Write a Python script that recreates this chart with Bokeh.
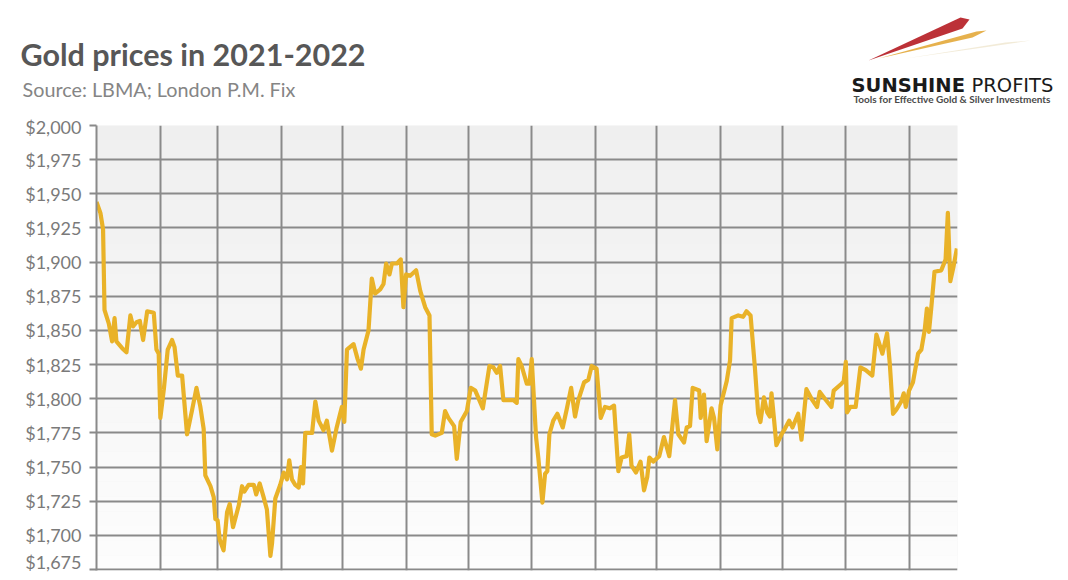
import pandas as pd
from bokeh.plotting import figure
from bokeh.models import FixedTicker, NumeralTickFormatter, Range1d, BoxAnnotation
from bokeh.core.properties import value
from bokeh.embed import file_html
from bokeh.resources import INLINE

# ---------------- data ----------------
start_date = "2021-01-01"
# days elapsed since start_date for each observation
days = [0, 1.9, 3.2, 3.9, 6, 7.6, 8.8, 9.7, 12.5, 14.6, 16.5, 17.8, 19.5, 21.1, 22.7, 24.7,
        27.9, 29.2, 30.3, 31.1, 32.8, 34.7, 36.8, 38, 39.6, 41.7, 44.1, 46.6, 48.7, 50.6, 52.2,
        53, 55.5, 57.1, 57.9, 59, 60, 61.9, 63.6, 64.9, 66.5, 69.3, 70.9, 72, 74.1, 76.6, 77.8,
        79.5, 81.4, 83, 84.7, 85.5, 87.1, 89.5, 91.2, 92.8, 93.9, 95.2, 96.8, 98.5, 99.6, 100.6,
        101.7, 105, 106.6, 108.2, 110.6, 112.2, 114.7, 117, 119.5, 120.7, 122, 125.2, 127.2,
        128.8, 130.1, 132.5, 134.1, 135.7, 138.2, 139.8, 141.1, 142.7, 143.9, 146.3, 148.2,
        149.5, 150.8, 152.8, 155.7, 157.7, 160.1, 162.2, 163.3, 165, 168.2, 169.8, 171.4,
        174.2, 175.5, 177.4, 180.4, 182.3, 184.5, 188.2, 191.4, 193.3, 195, 196.6, 198.2,
        203.1, 204.7, 205.5, 207.1, 209.6, 210.9, 212, 214.1, 215.2, 217.2, 218.5, 219.6,
        220.6, 222.5, 224.5, 227.1, 229, 231.2, 233.1, 234.7, 237.5, 239.6, 241.2, 243.6,
        245.6, 247.7, 250.1, 252.1, 254.2, 255.8, 258.2, 259.5, 260.6, 262.8, 265, 266.7,
        268.3, 269.3, 271.2, 274.1, 276.4, 279, 281.8, 283.4, 286.2, 287.5, 289.1, 290.4,
        293.6, 294.3, 295.9, 297.2, 299.6, 300.8, 302.4, 304, 307, 308.6, 309.4, 312.6, 315,
        316.6, 318.6, 320.7, 322.3, 323.4, 325.1, 326.7, 328, 328.8, 329.9, 331.2, 333.7,
        335.3, 337.4, 339, 341.8, 343.4, 345.8, 348.3, 351, 352.3, 354.8, 358, 359.1, 362.9,
        364, 365, 365.6, 367.2, 369.8, 372.1, 374.7, 377.9, 379.9, 382.8, 385.1, 386.4, 388,
        389.6, 392, 393.2, 394.2, 395.8, 397.7, 400.2, 401.8, 403.4, 404.5, 405.5, 406.6,
        408.2, 411.5, 413.6, 414.7, 415.9, 417.5, 419.1]
prices = [1944, 1936, 1924, 1865, 1855, 1842, 1859, 1842, 1837, 1834, 1861, 1853, 1856, 1857,
          1843, 1864, 1863, 1836, 1833, 1786, 1807, 1836, 1843, 1838, 1817, 1817, 1774, 1792,
          1808, 1794, 1778, 1744, 1736, 1728, 1712, 1711, 1697, 1689, 1717, 1723, 1706, 1722,
          1736, 1732, 1737, 1737, 1730, 1738, 1728, 1719, 1685, 1694, 1727, 1737, 1746, 1741,
          1755, 1741, 1737, 1735, 1750, 1738, 1775, 1775, 1798, 1784, 1777, 1784, 1762, 1779,
          1794, 1783, 1836, 1840, 1829, 1822, 1836, 1850, 1888, 1877, 1880, 1884, 1899, 1891,
          1899, 1899, 1902, 1867, 1891, 1890, 1894, 1879, 1867, 1861, 1774, 1773, 1775, 1791,
          1786, 1780, 1756, 1783, 1791, 1808, 1806, 1793, 1824, 1823, 1819, 1824, 1799, 1799,
          1797, 1829, 1824, 1811, 1811, 1829, 1772, 1757, 1724, 1745, 1747, 1774, 1784, 1789,
          1779, 1792, 1808, 1787, 1799, 1812, 1814, 1824, 1822, 1786, 1794, 1793, 1795, 1747,
          1757, 1758, 1774, 1751, 1746, 1754, 1733, 1743, 1757, 1754, 1758, 1772, 1758, 1799,
          1774, 1768, 1779, 1780, 1808, 1806, 1786, 1803, 1769, 1793, 1786, 1763, 1795, 1813,
          1828, 1859, 1861, 1860, 1864, 1861, 1823, 1789, 1783, 1801, 1790, 1787, 1804, 1787,
          1766, 1774, 1778, 1784, 1779, 1789, 1770, 1807, 1800, 1794, 1805, 1800, 1794, 1806,
          1811, 1813, 1827, 1790, 1794, 1794, 1823, 1821, 1817, 1847, 1833, 1848, 1826, 1789,
          1792, 1798, 1804, 1794, 1806, 1812, 1833, 1836, 1850, 1866, 1849, 1866, 1893, 1894,
          1902, 1936, 1886, 1897, 1910]
month_starts = ["2021-02-01", "2021-03-01", "2021-04-01", "2021-05-01", "2021-06-01",
                "2021-07-01", "2021-08-01", "2021-09-01", "2021-10-01", "2021-11-01",
                "2021-12-01", "2022-01-01", "2022-02-01"]
y_ticks = [1675, 1700, 1725, 1750, 1775, 1800, 1825, 1850, 1875, 1900, 1925, 1950, 1975, 2000]

title_text = "Gold prices in 2021-2022"
subtitle_text = "Source: LBMA; London P.M. Fix"
logo_bold = "SUNSHINE"
logo_regular = "PROFITS"
logo_tagline = "Tools for Effective Gold & Silver Investments"

W = 1060
HEAD_H = 115

# ---------------- header (title, source, logo) ----------------
h = figure(width=W, height=HEAD_H, output_backend="svg", toolbar_location=None,
           x_range=Range1d(0, W), y_range=Range1d(HEAD_H, 0),
           min_border=0, min_border_left=0, min_border_right=0,
           min_border_top=0, min_border_bottom=0)
h.axis.visible = False
h.grid.visible = False
h.outline_line_color = None
h.background_fill_color = "white"
h.border_fill_color = "white"


def htext(x, y, txt, size, color, style="normal", font="Lato"):
    h.text(x=[x], y=[y], text=[txt], text_font=value(font), text_font_size=size,
           text_color=color, text_font_style=style, text_baseline="alphabetic",
           text_align="left")


# logo stripes
h.patches(xs=[[1005, 905, 990, 1030], [976, 878, 972, 986], [960, 868, 962, 969]],
          ys=[[42, 58, 46, 40], [31, 58, 37, 30], [17, 60, 28, 19]],
          fill_color=["#ece2c8", "#e3a93a", "#b8262c"], fill_alpha=[0.7, 0.9, 0.95],
          line_color=None)

htext(20, 53, title_text, "30.5px", "#575757", "bold")
htext(22, 88, subtitle_text, "19.8px", "#858585")
htext(851, 85, logo_bold, "19.5px", "#1a1a1a", "bold", "DejaVu Sans")
htext(971, 85, logo_regular, "19.5px", "#1a1a1a", "normal", "DejaVu Sans")
htext(853, 98, logo_tagline, "10px", "#4a4a4a", "bold")

# ---------------- main chart ----------------
t0 = pd.Timestamp(start_date)
dates = [t0 + pd.Timedelta(days=d) for d in days]
x_end = t0 + pd.Timedelta(days=419.4)
Y0 = 1674.3

GOLD = "#E9B228"
GRID = "#8a8a8a"

p = figure(width=W, height=572 - HEAD_H, output_backend="svg", toolbar_location=None,
           x_axis_type="datetime",
           x_range=Range1d(t0, x_end), y_range=Range1d(Y0, 2000),
           min_border_left=96, min_border_right=W - 957, min_border_top=125 - HEAD_H,
           min_border_bottom=2)
p.outline_line_color = None
p.background_fill_color = "#f4f4f4"
p.border_fill_color = "white"

# subtle vertical gradient in plot area
nb = 30
for i in range(nb):
    lo = Y0 + (2000 - Y0) * i / nb
    hi = Y0 + (2000 - Y0) * (i + 1) / nb
    frac = (i + 0.5) / nb
    c = int(round(253 - frac * 14))
    p.add_layout(BoxAnnotation(bottom=lo, top=hi, fill_color=f"#{c:02x}{c:02x}{c:02x}",
                               fill_alpha=1.0, line_color=None, level="image"))

p.line(dates, prices, line_color=GOLD, line_width=4.2, line_join="round")

p.xaxis.visible = False
p.xaxis.ticker = FixedTicker(ticks=[pd.Timestamp(m).value / 1e6 for m in month_starts])
p.xgrid.grid_line_color = GRID
p.xgrid.grid_line_width = 2
p.ygrid.grid_line_color = GRID
p.ygrid.grid_line_width = 2

p.yaxis.ticker = FixedTicker(ticks=y_ticks)
p.yaxis.formatter = NumeralTickFormatter(format="$0,0")
p.yaxis.axis_line_color = GRID
p.yaxis.axis_line_width = 2
p.yaxis.major_tick_line_color = GRID
p.yaxis.major_tick_line_width = 2
p.yaxis.major_tick_out = 7
p.yaxis.major_tick_in = 0
p.yaxis.minor_tick_line_color = None
p.yaxis.major_label_text_font = "Lato"
p.yaxis.major_label_text_font_size = "18px"
p.yaxis.major_label_text_color = "#7a7a7a"
p.yaxis.major_label_standoff = 8

# two independent roots stacked on the page (no frame alignment between them)
open("out.html", "w").write(file_html([h, p], INLINE))
